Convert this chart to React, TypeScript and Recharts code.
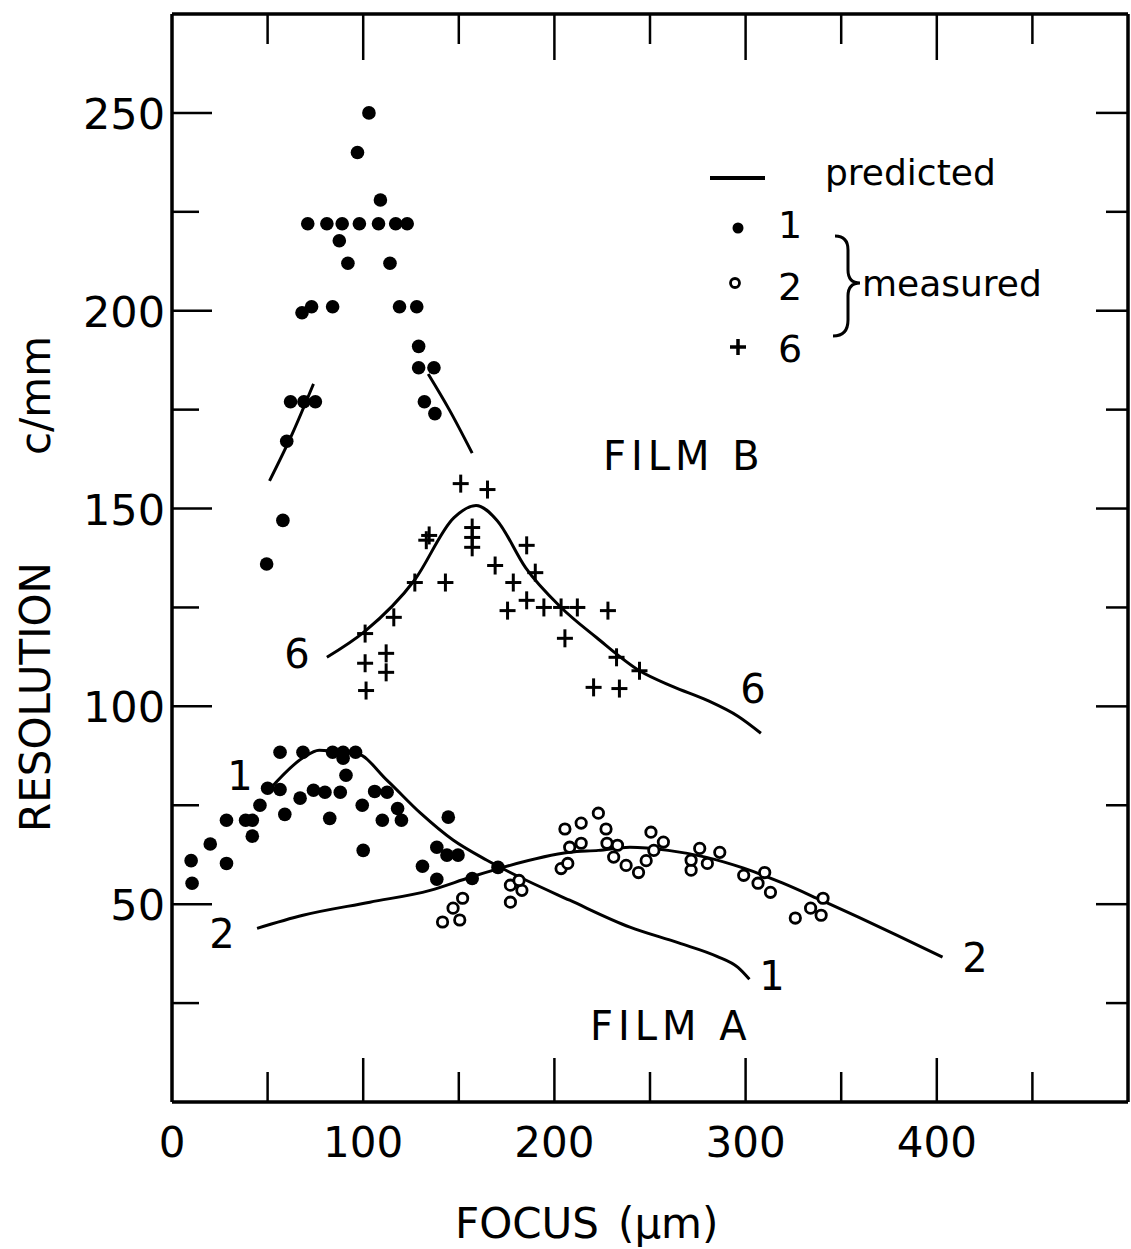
import React from 'react';
import { ComposedChart, Line, Scatter, XAxis, YAxis } from 'recharts';

// axis ticks
const xTicks = [0, 50, 100, 150, 200, 250, 300, 350, 400, 450];
const yTicks = [25, 50, 75, 100, 125, 150, 175, 200, 225, 250];

// FILM B, measured, film 1 (filled dots)
const filmB1Measured = [
  { x: 103, y: 250 }, { x: 97, y: 240 }, { x: 109, y: 228 },
  { x: 71, y: 222 }, { x: 81, y: 222 }, { x: 89, y: 222 }, { x: 98, y: 222 },
  { x: 108, y: 222 }, { x: 117, y: 222 }, { x: 123, y: 222 },
  { x: 87.5, y: 217.7 }, { x: 92, y: 212 }, { x: 114, y: 212 },
  { x: 68, y: 199.5 }, { x: 73, y: 201 }, { x: 84, y: 201 }, { x: 119, y: 201 }, { x: 128, y: 201 },
  { x: 129, y: 191 }, { x: 129, y: 185.6 }, { x: 137, y: 185.6 },
  { x: 62, y: 177 }, { x: 69, y: 177 }, { x: 75, y: 177 }, { x: 132, y: 177 }, { x: 137.5, y: 174 },
  { x: 60, y: 167 }, { x: 58, y: 147 }, { x: 49.5, y: 136 },
];

// FILM B, measured, film 6 (plus)
const filmB6Measured = [
  { x: 151, y: 156.3 }, { x: 165, y: 154.8 }, { x: 134.5, y: 143.2 }, { x: 133, y: 142 },
  { x: 157, y: 145.2 }, { x: 157, y: 142.7 }, { x: 157, y: 140.2 },
  { x: 127, y: 131.3 }, { x: 143, y: 131.3 }, { x: 169, y: 135.6 }, { x: 185.5, y: 140.7 },
  { x: 190, y: 133.8 }, { x: 178.5, y: 131.3 }, { x: 175.5, y: 124.2 }, { x: 185.5, y: 126.8 },
  { x: 194.5, y: 125 }, { x: 203.5, y: 125 }, { x: 212, y: 125 }, { x: 228, y: 124.2 },
  { x: 205.5, y: 117.2 }, { x: 116, y: 122.5 }, { x: 101, y: 118.4 }, { x: 101, y: 110.9 },
  { x: 112, y: 113.4 }, { x: 112, y: 108.6 }, { x: 101.5, y: 104 },
  { x: 232.5, y: 112.4 }, { x: 244.5, y: 109 }, { x: 220.5, y: 104.8 }, { x: 234, y: 104.5 },
];

// FILM A, measured, film 1 (filled dots)
const filmA1Measured = [
  { x: 10, y: 61 }, { x: 10.5, y: 55.3 }, { x: 20, y: 65.2 }, { x: 28.5, y: 60.3 },
  { x: 28.5, y: 71.2 }, { x: 38.5, y: 71.2 }, { x: 42, y: 71.2 }, { x: 46, y: 75 },
  { x: 42, y: 67.2 }, { x: 50, y: 79.3 }, { x: 56.5, y: 79 }, { x: 56.5, y: 88.4 },
  { x: 68.5, y: 88.4 }, { x: 59, y: 72.7 }, { x: 67, y: 76.8 }, { x: 74, y: 78.8 },
  { x: 80, y: 78.3 }, { x: 88, y: 78.3 }, { x: 82.5, y: 71.7 },
  { x: 84, y: 88.4 }, { x: 89.5, y: 88.4 }, { x: 96, y: 88.4 }, { x: 89.5, y: 86.9 },
  { x: 91, y: 82.6 }, { x: 99.5, y: 75 }, { x: 100, y: 63.6 }, { x: 106, y: 78.5 },
  { x: 112.5, y: 78.3 }, { x: 110, y: 71.2 }, { x: 118, y: 74.2 }, { x: 120, y: 71.2 },
  { x: 144.5, y: 72 }, { x: 138.5, y: 64.4 }, { x: 143.8, y: 62.4 }, { x: 149.6, y: 62.4 },
  { x: 131, y: 59.6 }, { x: 138.5, y: 56.3 }, { x: 157, y: 56.5 }, { x: 170.5, y: 59.3 },
];

// FILM A, measured, film 2 (open circles)
const filmA2Measured = [
  { x: 141.5, y: 45.5 }, { x: 150.5, y: 46 }, { x: 147, y: 49 }, { x: 152, y: 51.5 },
  { x: 177, y: 54.8 }, { x: 183, y: 53.5 }, { x: 177, y: 50.5 }, { x: 181.5, y: 56 },
  { x: 203.5, y: 59 }, { x: 207, y: 60.3 }, { x: 205.5, y: 69 }, { x: 214, y: 70.5 },
  { x: 223, y: 73 }, { x: 208, y: 64.4 }, { x: 214, y: 65.4 }, { x: 227, y: 69 },
  { x: 227.5, y: 65.4 }, { x: 233, y: 64.9 }, { x: 231, y: 61.9 },
  { x: 237.5, y: 59.8 }, { x: 244, y: 58 }, { x: 248, y: 61 }, { x: 250.5, y: 68.2 },
  { x: 252, y: 63.6 }, { x: 257, y: 65.7 },
  { x: 271.5, y: 58.6 }, { x: 276, y: 64.1 }, { x: 280, y: 60.3 }, { x: 286.5, y: 63.1 }, { x: 271.5, y: 61.1 },
  { x: 299, y: 57.3 }, { x: 306.5, y: 55.3 }, { x: 310, y: 58 }, { x: 313, y: 53 },
  { x: 326, y: 46.5 }, { x: 334, y: 49 }, { x: 339.5, y: 47.2 }, { x: 340.5, y: 51.5 },
];

// predicted curves
const filmB1PredLeft = [{ x: 51, y: 157 }, { x: 63, y: 169 }, { x: 74, y: 181.5 }];
const filmB1PredRight = [{ x: 134, y: 184 }, { x: 145, y: 175 }, { x: 157, y: 164 }];
const filmB6Pred = [
  { x: 81, y: 112.4 }, { x: 101, y: 119 }, { x: 127, y: 132 }, { x: 147.5, y: 147.7 },
  { x: 159, y: 150.8 }, { x: 170, y: 147 }, { x: 185, y: 135 }, { x: 203.5, y: 125 },
  { x: 222, y: 117.4 }, { x: 244.5, y: 109 }, { x: 262, y: 105 }, { x: 280, y: 101.5 },
  { x: 296, y: 97.5 }, { x: 308, y: 93.2 },
];
const filmA1Pred = [
  { x: 51, y: 79 }, { x: 68.5, y: 87 }, { x: 77, y: 88.9 }, { x: 97, y: 88 },
  { x: 112.5, y: 81.3 }, { x: 130, y: 73 }, { x: 147, y: 66.2 }, { x: 164.7, y: 61.1 },
  { x: 182, y: 56.8 }, { x: 208, y: 51 }, { x: 239.5, y: 44.2 }, { x: 265, y: 40.2 },
  { x: 285, y: 36.8 }, { x: 296, y: 34 }, { x: 302, y: 31 },
];
const filmA2Pred = [
  { x: 44.5, y: 43.9 }, { x: 68.5, y: 47.2 }, { x: 103.5, y: 50.5 }, { x: 135, y: 53.5 },
  { x: 156, y: 56.8 }, { x: 173, y: 59.3 }, { x: 208, y: 63.1 }, { x: 223, y: 63.6 },
  { x: 239.5, y: 64.4 }, { x: 259.5, y: 63.6 }, { x: 279, y: 61.9 }, { x: 299, y: 59.1 },
  { x: 319.5, y: 55.3 }, { x: 339.5, y: 51 }, { x: 359, y: 46.7 }, { x: 379, y: 42.2 },
  { x: 403, y: 36.6 },
];

const FONT = 'DejaVu Sans';

const FilledDot = (p: any) => <circle cx={p.cx} cy={p.cy} r={6.8} fill="#000" />;
const OpenDot = (p: any) => (
  <circle cx={p.cx} cy={p.cy} r={5.2} fill="#fff" stroke="#000" strokeWidth={2.8} />
);
const Plus = (p: any) => (
  <g stroke="#000" strokeWidth={3}>
    <line x1={p.cx - 8} x2={p.cx + 8} y1={p.cy} y2={p.cy} />
    <line x1={p.cx} x2={p.cx} y1={p.cy - 9} y2={p.cy + 9} />
  </g>
);

const BottomTick = (props: any) => {
  const { x, y, payload } = props;
  const v = payload.value;
  const major = v % 100 === 0;
  return (
    <g>
      {v > 0 && <line x1={x} x2={x} y1={y} y2={y - (major ? 44 : 30)} stroke="#000" strokeWidth={2.5} />}
      {major && (
        <text x={x} y={y + 55} textAnchor="middle" fontFamily={FONT} fontSize={42} fill="#000">
          {v}
        </text>
      )}
    </g>
  );
};

const TopTick = (props: any) => {
  const { x, y, payload } = props;
  const v = payload.value;
  if (v <= 0) return <g />;
  const major = v % 100 === 0;
  return <line x1={x} x2={x} y1={y} y2={y + (major ? 46 : 30)} stroke="#000" strokeWidth={2.5} />;
};

const LeftTick = (props: any) => {
  const { x, y, payload } = props;
  const v = payload.value;
  const major = v % 50 === 0;
  return (
    <g>
      <line x1={x} x2={x + (major ? 40 : 27)} y1={y} y2={y} stroke="#000" strokeWidth={2.5} />
      {major && (
        <text x={x - 7} y={y + 16} textAnchor="end" fontFamily={FONT} fontSize={43} fill="#000">
          {v}
        </text>
      )}
    </g>
  );
};

const RightTick = (props: any) => {
  const { x, y, payload } = props;
  const v = payload.value;
  const major = v % 50 === 0;
  return <line x1={x} x2={x - (major ? 32 : 22)} y1={y} y2={y} stroke="#000" strokeWidth={2.5} />;
};

const txt = { fontFamily: FONT, fill: '#000' };

const App: React.FC = () => {
  return (
    <div style={{ position: 'absolute', left: 0, top: 0, width: 1131, height: 1249, background: '#fff' }}>
      <ComposedChart width={1131} height={1249} margin={{ top: 13, right: 2, bottom: 146, left: 171 }}>
        <XAxis
          type="number"
          dataKey="x"
          domain={[0, 500]}
          ticks={xTicks}
          interval={0}
          height={1}
          tickSize={0}
          tickMargin={0}
          tick={<BottomTick />}
          tickLine={false}
          axisLine={{ stroke: '#000', strokeWidth: 3.5 }}
          allowDataOverflow
        />
        <XAxis
          xAxisId="top"
          orientation="top"
          type="number"
          dataKey="x"
          domain={[0, 500]}
          ticks={xTicks}
          interval={0}
          height={1}
          tickSize={0}
          tickMargin={0}
          tick={<TopTick />}
          tickLine={false}
          axisLine={{ stroke: '#000', strokeWidth: 3.5 }}
          allowDataOverflow
        />
        <YAxis
          type="number"
          dataKey="y"
          domain={[0, 275]}
          ticks={yTicks}
          interval={0}
          width={1}
          tickSize={0}
          tickMargin={0}
          tick={<LeftTick />}
          tickLine={false}
          axisLine={{ stroke: '#000', strokeWidth: 3.5 }}
          allowDataOverflow
        />
        <YAxis
          yAxisId="right"
          orientation="right"
          type="number"
          dataKey="y"
          domain={[0, 275]}
          ticks={yTicks}
          interval={0}
          width={1}
          tickSize={0}
          tickMargin={0}
          tick={<RightTick />}
          tickLine={false}
          axisLine={{ stroke: '#000', strokeWidth: 3.5 }}
          allowDataOverflow
        />

        <Line data={filmB1PredLeft} dataKey="y" type="monotone" stroke="#000" strokeWidth={3} dot={false} isAnimationActive={false} />
        <Line data={filmB1PredRight} dataKey="y" type="monotone" stroke="#000" strokeWidth={3} dot={false} isAnimationActive={false} />
        <Line data={filmB6Pred} dataKey="y" type="monotone" stroke="#000" strokeWidth={3} dot={false} isAnimationActive={false} />
        <Line data={filmA1Pred} dataKey="y" type="monotone" stroke="#000" strokeWidth={3} dot={false} isAnimationActive={false} />
        <Line data={filmA2Pred} dataKey="y" type="monotone" stroke="#000" strokeWidth={3} dot={false} isAnimationActive={false} />

        <Scatter data={filmB1Measured} dataKey="y" shape={FilledDot} isAnimationActive={false} />
        <Scatter data={filmB6Measured} dataKey="y" shape={Plus} isAnimationActive={false} />
        <Scatter data={filmA1Measured} dataKey="y" shape={FilledDot} isAnimationActive={false} />
        <Scatter data={filmA2Measured} dataKey="y" shape={OpenDot} isAnimationActive={false} />
      </ComposedChart>

      <svg
        width={1131}
        height={1249}
        style={{ position: 'absolute', left: 0, top: 0, pointerEvents: 'none' }}
      >
        {/* axis titles */}
        <text {...txt} fontSize={42} transform="translate(50,832) rotate(-90)">RESOLUTION</text>
        <text {...txt} fontSize={42} transform="translate(50,455) rotate(-90)">c/mm</text>
        <text {...txt} fontSize={42} x={455} y={1238}>FOCUS</text>
        <text {...txt} fontSize={42} x={618} y={1238}>(μm)</text>

        {/* curve labels */}
        <text {...txt} fontSize={40} x={603} y={470} letterSpacing={5}>FILM B</text>
        <text {...txt} fontSize={40} x={590} y={1040} letterSpacing={5}>FILM A</text>
        <text {...txt} fontSize={40} x={297} y={668} textAnchor="middle">6</text>
        <text {...txt} fontSize={40} x={753} y={703} textAnchor="middle">6</text>
        <text {...txt} fontSize={40} x={240} y={790} textAnchor="middle">1</text>
        <text {...txt} fontSize={40} x={222} y={948} textAnchor="middle">2</text>
        <text {...txt} fontSize={40} x={772} y={990} textAnchor="middle">1</text>
        <text {...txt} fontSize={40} x={975} y={972} textAnchor="middle">2</text>

        {/* legend */}
        <line x1={710} x2={765} y1={178} y2={178} stroke="#000" strokeWidth={4} />
        <text {...txt} fontSize={36} x={825} y={185}>predicted</text>
        <circle cx={738} cy={228} r={5.5} fill="#000" />
        <text {...txt} fontSize={38} x={790} y={238} textAnchor="middle">1</text>
        <circle cx={735} cy={283} r={4.5} fill="#fff" stroke="#000" strokeWidth={2.8} />
        <text {...txt} fontSize={38} x={790} y={300} textAnchor="middle">2</text>
        <line x1={730} x2={746} y1={347} y2={347} stroke="#000" strokeWidth={3.5} />
        <line x1={738} x2={738} y1={339} y2={355} stroke="#000" strokeWidth={3.5} />
        <text {...txt} fontSize={38} x={790} y={362} textAnchor="middle">6</text>
        <path
          d="M835,236 Q848,236 848,250 L848,270 Q848,283 860,283 Q848,283 848,296 L848,320 Q848,336 833,336"
          fill="none"
          stroke="#000"
          strokeWidth={3}
        />
        <text {...txt} fontSize={36} x={862} y={296}>measured</text>
      </svg>
    </div>
  );
};

export default App;
